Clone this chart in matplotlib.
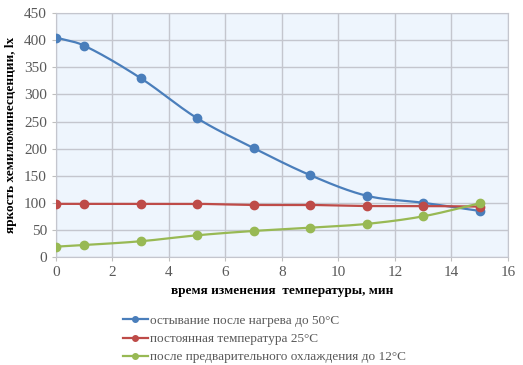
import numpy as np
import matplotlib
matplotlib.use("Agg")
import matplotlib.pyplot as plt
from matplotlib.lines import Line2D

time_min = [0, 1, 3, 5, 7, 9, 11, 13, 15]
cooling_after_50 = [405, 390, 330, 256, 201, 151, 113, 100, 85]
constant_25 = [98, 98, 98, 98, 96, 96, 94, 94, 93]
precooled_12 = [19, 22, 29, 40, 48, 54, 61, 75, 99]
series_labels = ["остывание после нагрева до 50°C",
                 "постоянная температура 25°C",
                 "после предварительного охлаждения до 12°C"]
colors = ["#4A7EBB", "#BE4B48", "#98B954"]
x_ticks = [0, 2, 4, 6, 8, 10, 12, 14, 16]
y_ticks = [0, 50, 100, 150, 200, 250, 300, 350, 400, 450]


def smooth(x, y, n=30):
    x = np.asarray(x, float)
    y = np.asarray(y, float)
    m = np.zeros_like(y)
    m[1:-1] = (y[2:] - y[:-2]) / (x[2:] - x[:-2])
    m[0] = (y[1] - y[0]) / (x[1] - x[0])
    m[-1] = (y[-1] - y[-2]) / (x[-1] - x[-2])
    xs, ys = [], []
    for i in range(len(x) - 1):
        h = x[i + 1] - x[i]
        t = np.linspace(0, 1, n)
        h00 = 2 * t**3 - 3 * t**2 + 1
        h10 = t**3 - 2 * t**2 + t
        h01 = -2 * t**3 + 3 * t**2
        h11 = t**3 - t**2
        xs.append(x[i] + t * h)
        ys.append(h00 * y[i] + h10 * h * m[i] + h01 * y[i + 1] + h11 * h * m[i + 1])
    return np.concatenate(xs), np.concatenate(ys)


plt.rcParams['font.family'] = ['Liberation Serif', 'DejaVu Serif']
fig = plt.figure(figsize=(5.23, 3.65), dpi=100)
ax = fig.add_axes([0.107, 0.296, 0.864, 0.668])
ax.set_facecolor("#EEF5FD")

for ys, c in zip([cooling_after_50, constant_25, precooled_12], colors):
    sx, sy = smooth(time_min, ys)
    ax.plot(sx, sy, color=c, lw=1.6, zorder=3)
    ax.plot(time_min, ys, 'o', color=c, ms=6, zorder=4)

ax.set_xlim(0, 16)
ax.set_ylim(0, 450)
ax.set_xticks(x_ticks)
ax.set_yticks(y_ticks)
ax.grid(True, color="#C4C6CE", lw=1)
ax.set_axisbelow(True)
for s in ax.spines.values():
    s.set_color("#C4C6CE")
ax.tick_params(colors="#BFBFBF", labelsize=11, length=3, labelcolor="#595959")
ax.set_xlabel("время изменения  температуры, мин", fontsize=9.5, fontweight='bold', labelpad=4)
ax.set_ylabel("яркость хемилюминесценции, lx", fontsize=9.5, fontweight='bold', labelpad=5)

handles = [Line2D([0], [0], color=c, lw=1.6, marker='o', ms=4) for c in colors]
fig.legend(handles, series_labels, loc='upper left', bbox_to_anchor=(0.225, 0.152),
           frameon=False, fontsize=9.5, labelcolor="#595959", handlelength=1.9,
           handletextpad=0.15, labelspacing=0.45, borderaxespad=0)

fig.savefig("out.png", dpi=100)
